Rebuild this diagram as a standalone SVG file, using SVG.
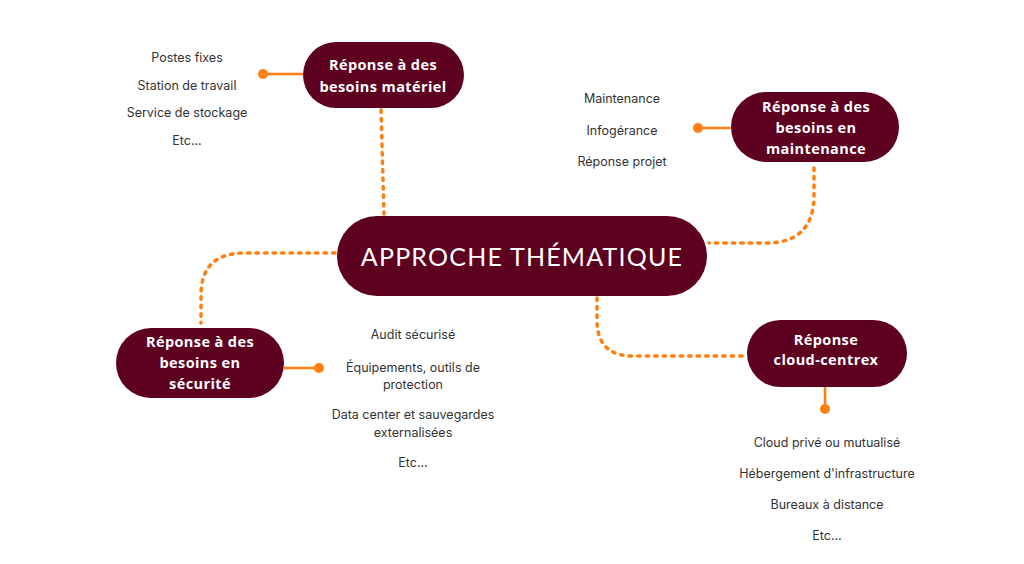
<svg xmlns="http://www.w3.org/2000/svg" width="1024" height="564" viewBox="0 0 1024 564">
<style>
.node{fill:#5e0020}
.nl{font-family:"Open Sans","Liberation Sans",sans-serif;font-weight:700;font-size:14.5px;fill:#fff;text-anchor:middle;letter-spacing:0.4px}
.title{font-family:"Lato","Liberation Sans",sans-serif;font-size:25px;fill:#fff;text-anchor:middle;letter-spacing:1.2px}
.it{font-family:"Inter","Liberation Sans",sans-serif;font-size:12.5px;fill:#333;text-anchor:middle}
.dot{fill:none;stroke:#ff7f11;stroke-width:3.5;stroke-dasharray:2.5 6;stroke-linecap:round}
.sol{fill:none;stroke:#ff7f11;stroke-width:2.5}
.pin{fill:#ff7f11}
</style>
<rect width="1024" height="564" fill="#fff"/>
<g id="connectors">
<path class="dot" d="M381,110 L384,214"/>
<path class="dot" d="M814,168 L814,195 Q814,243 766,243 L709,243"/>
<path class="dot" d="M335,253 L245,253 Q201,253 201,295 L201,323"/>
<path class="dot" d="M597,298 L597,320 Q597,356 633,356 L745,356"/>
<path class="sol" d="M263,74 L303,74"/>
<circle class="pin" cx="263" cy="74" r="5"/>
<path class="sol" d="M698,128 L731,128"/>
<circle class="pin" cx="698" cy="128" r="5"/>
<path class="sol" d="M284,368 L319,368"/>
<circle class="pin" cx="319" cy="368" r="5"/>
<path class="sol" d="M825,387 L825,409"/>
<circle class="pin" cx="825" cy="409" r="5"/>
</g>
<g id="center">
<rect class="node" x="337" y="216" width="370" height="80" rx="40"/>
<text class="title" x="522" y="266">APPROCHE THÉMATIQUE</text>
</g>
<g id="materiel">
<rect class="node" x="303" y="42" width="161" height="66" rx="33"/>
<text class="nl" x="383" y="70">Réponse à des</text>
<text class="nl" x="383" y="92">besoins matériel</text>
</g>
<g id="materiel-items">
<text class="it" x="187" y="62">Postes fixes</text>
<text class="it" x="187" y="90">Station de travail</text>
<text class="it" x="187" y="117">Service de stockage</text>
<text class="it" x="187" y="145">Etc...</text>
</g>
<g id="maintenance">
<rect class="node" x="731" y="92" width="168" height="70" rx="35"/>
<text class="nl" x="816" y="112">Réponse à des</text>
<text class="nl" x="816" y="133">besoins en</text>
<text class="nl" x="816" y="154">maintenance</text>
</g>
<g id="maintenance-items">
<text class="it" x="622" y="103">Maintenance</text>
<text class="it" x="622" y="135">Infogérance</text>
<text class="it" x="622" y="166">Réponse projet</text>
</g>
<g id="securite">
<rect class="node" x="116" y="328" width="168" height="70" rx="35"/>
<text class="nl" x="200" y="347">Réponse à des</text>
<text class="nl" x="200" y="368">besoins en</text>
<text class="nl" x="200" y="389">sécurité</text>
</g>
<g id="securite-items">
<text class="it" x="413" y="339">Audit sécurisé</text>
<text class="it" x="413" y="372">Équipements, outils de</text>
<text class="it" x="413" y="389">protection</text>
<text class="it" x="413" y="419">Data center et sauvegardes</text>
<text class="it" x="413" y="437">externalisées</text>
<text class="it" x="413" y="467">Etc...</text>
</g>
<g id="cloud">
<rect class="node" x="747" y="320" width="160" height="67" rx="33.5"/>
<text class="nl" x="826" y="345">Réponse</text>
<text class="nl" x="826" y="365">cloud-centrex</text>
</g>
<g id="cloud-items">
<text class="it" x="827" y="447">Cloud privé ou mutualisé</text>
<text class="it" x="827" y="478">Hébergement d'infrastructure</text>
<text class="it" x="827" y="509">Bureaux à distance</text>
<text class="it" x="827" y="540">Etc...</text>
</g>
</svg>
